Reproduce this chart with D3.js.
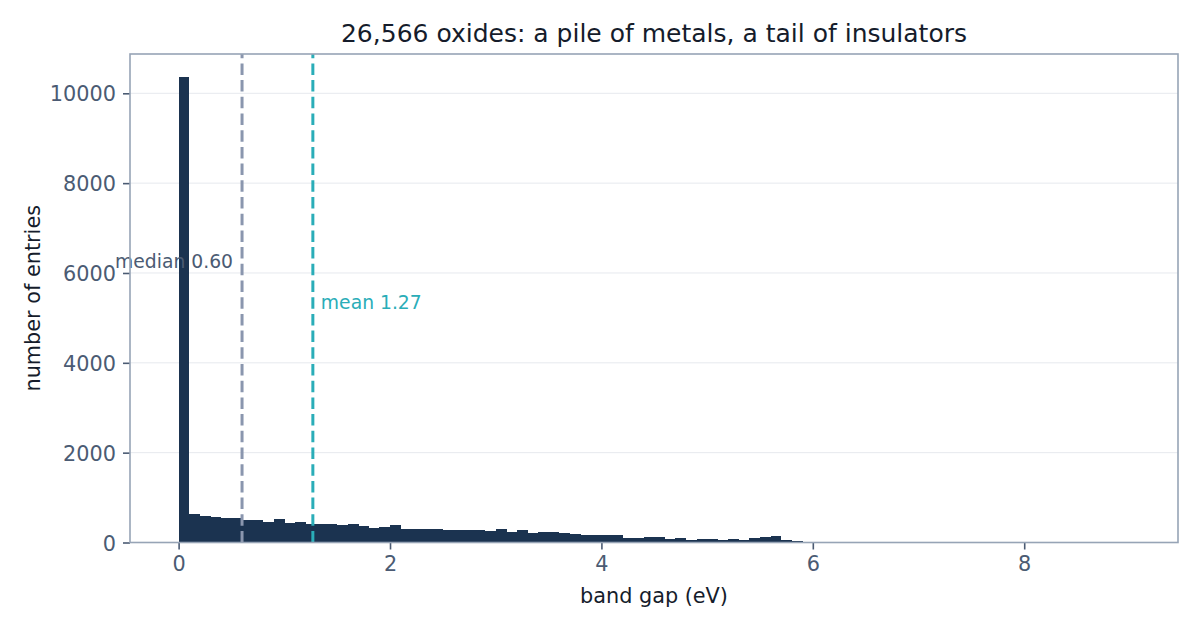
<!DOCTYPE html>
<html>
<head>
<meta charset="utf-8">
<script src="https://cdn.jsdelivr.net/npm/d3@7/dist/d3.min.js"></script>
<style>
  html, body { margin: 0; padding: 0; background: #ffffff; }
  svg { display: block; font-family: "DejaVu Sans", sans-serif; }
</style>
</head>
<body>
<svg id="chart" width="1200" height="630"></svg>
<script>
// ---- data ----
const titleText = "26,566 oxides: a pile of metals, a tail of insulators";
const xLabel = "band gap (eV)";
const yLabel = "number of entries";
const binWidth = 0.1;
// histogram counts, bins of 0.1 eV starting at 0
const binCounts = [
  10357, 642, 597, 568, 545, 545, 501, 501, 456, 523,
  441, 456, 419, 419, 419, 397, 419, 375, 330, 352,
  397, 301, 301, 301, 301, 278, 278, 278, 278, 256,
  301, 241, 278, 211, 234, 234, 211, 189, 167, 167,
  167, 167, 100, 100, 122, 122, 78, 100, 56, 78,
  78, 56, 78, 56, 100, 122, 145, 60, 33, 14,
  12, 12, 10, 12, 10, 12, 4, 3, 2, 3,
  2, 1, 2, 1, 1, 2, 1, 0, 1, 1,
  0, 1, 0, 1, 0, 0, 1, 0, 0, 1
];
const xTicks = [0, 2, 4, 6, 8];
const yTicks = [0, 2000, 4000, 6000, 8000, 10000];
const medianValue = 0.60;
const meanValue = 1.27;
const medianLabel = "median 0.60";
const meanLabel = "mean 1.27";

// ---- layout ----
const svg = d3.select("#chart");
const plot = { left: 130, right: 1178, top: 54, bottom: 542.5 };
const colors = {
  bar: "#1b3350", spine: "#97a4b6", tick: "#4b5b73", grid: "#e6e9ee",
  median: "#8a96ae", mean: "#2aadb8", medianText: "#4b5b73", title: "#151c2b"
};

const bins = binCounts.map((c, i) => ({ x0: i * binWidth, x1: (i + 1) * binWidth, count: c }));
const yMax = d3.max(binCounts) * 1.05;

const x = d3.scaleLinear().domain([-0.46, 9.455]).range([plot.left, plot.right]);
const y = d3.scaleLinear().domain([0, yMax]).range([plot.bottom, plot.top]);

// grid
svg.append("g").selectAll("line").data(yTicks.filter(d => d > 0)).join("line")
  .attr("x1", plot.left).attr("x2", plot.right)
  .attr("y1", d => y(d)).attr("y2", d => y(d))
  .attr("stroke", colors.grid).attr("stroke-width", 1);

// bars
svg.append("g").selectAll("rect").data(bins).join("rect")
  .attr("x", d => x(d.x0))
  .attr("width", d => x(d.x1) - x(d.x0) + 0.3)
  .attr("y", d => y(d.count))
  .attr("height", d => y(0) - y(d.count))
  .attr("fill", colors.bar)
  .attr("shape-rendering", "crispEdges");

// reference lines
function vline(v, color) {
  svg.append("line")
    .attr("x1", x(v)).attr("x2", x(v))
    .attr("y1", plot.bottom).attr("y2", plot.top)
    .attr("stroke", color).attr("stroke-width", 3)
    .attr("stroke-dasharray", "11.5,5.2");
}
vline(medianValue, colors.median);
vline(meanValue, colors.mean);

svg.append("text")
  .attr("x", x(medianValue) - 9).attr("y", y(6100))
  .attr("text-anchor", "end").attr("font-size", 18.75)
  .attr("fill", colors.medianText).text(medianLabel);
svg.append("text")
  .attr("x", x(meanValue) + 8).attr("y", y(5200))
  .attr("text-anchor", "start").attr("font-size", 18.75)
  .attr("fill", colors.mean).text(meanLabel);

// axes
const xAxis = d3.axisBottom(x).tickValues(xTicks).tickFormat(d3.format("d")).tickSize(7).tickPadding(7);
const yAxis = d3.axisLeft(y).tickValues(yTicks).tickFormat(d3.format("d")).tickSize(7).tickPadding(7);

const gx = svg.append("g").attr("transform", `translate(0,${plot.bottom})`).call(xAxis);
const gy = svg.append("g").attr("transform", `translate(${plot.left},0)`).call(yAxis);
[gx, gy].forEach(g => {
  g.select(".domain").remove();
  g.selectAll(".tick line").attr("stroke", colors.tick).attr("stroke-width", 1.6);
  g.selectAll(".tick text").attr("fill", colors.tick).attr("font-size", 20.8)
    .attr("font-family", "DejaVu Sans, sans-serif");
});
gx.selectAll(".tick text").attr("dy", "0.71em");
gy.selectAll(".tick text").attr("dy", "0.36em");

// frame
svg.append("rect")
  .attr("x", plot.left).attr("y", plot.top)
  .attr("width", plot.right - plot.left).attr("height", plot.bottom - plot.top)
  .attr("fill", "none").attr("stroke", colors.spine).attr("stroke-width", 1.6);

// labels
svg.append("text").attr("x", (plot.left + plot.right) / 2).attr("y", 41.5)
  .attr("text-anchor", "middle").attr("font-size", 25).attr("fill", colors.title).text(titleText);
svg.append("text").attr("x", (plot.left + plot.right) / 2).attr("y", 603)
  .attr("text-anchor", "middle").attr("font-size", 20.8).attr("fill", colors.title).text(xLabel);
svg.append("text").attr("transform", `translate(40,${(plot.top + plot.bottom) / 2}) rotate(-90)`)
  .attr("text-anchor", "middle").attr("font-size", 20.8).attr("fill", colors.title).text(yLabel);
</script>
</body>
</html>
